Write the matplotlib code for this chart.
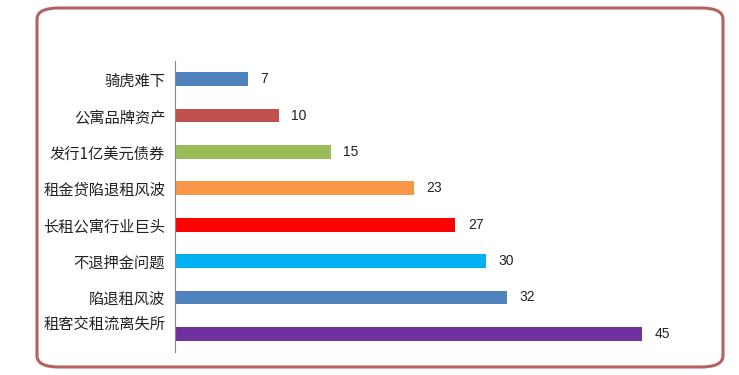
import matplotlib.pyplot as plt
import matplotlib.transforms as mtransforms
from matplotlib.patches import FancyBboxPatch

plt.rcParams['font.family'] = ['Noto Sans CJK SC', 'DejaVu Sans']

# 数据（从上到下）
categorias = ['骑虎难下', '公寓品牌资产', '发行1亿美元债券', '租金贷陷退租风波',
              '长租公寓行业巨头', '不退押金问题', '陷退租风波', '租客交租流离失所']
valores = [7, 10, 15, 23, 27, 30, 32, 45]
cores = ['#4F81BD', '#C0504D', '#9BBB59', '#F79646',
         '#FF0000', '#00B0F0', '#4F81BD', '#7030A0']

fig = plt.figure(figsize=(7.39, 3.75), dpi=100)
ax = fig.add_axes([0.2368, 0.0613, 0.6996, 0.776])

pos = list(range(len(categorias)))
ax.barh(pos, valores, height=0.38, color=cores)
ax.set_ylim(len(categorias) - 0.5, -0.5)
ax.set_xlim(0, 49.8)

for p, v in zip(pos, valores):
    ax.text(v + 1.2, p, str(v), va='center', ha='left', fontsize=10,
            color='#222222', family='Liberation Sans')

ax.set_yticks(pos)
ax.set_yticklabels(categorias, fontsize=11, color='#222222')
ax.tick_params(axis='y', length=0, pad=7)
ax.set_xticks([])
for lado in ['top', 'right', 'bottom']:
    ax.spines[lado].set_visible(False)
ax.spines['left'].set_color('#888888')
ax.spines['left'].set_linewidth(0.8)

# o último rótulo fica um pouco acima da barra, como no original
ultimo = ax.get_yticklabels()[-1]
ultimo.set_transform(ultimo.get_transform() +
                     mtransforms.ScaledTranslation(0, 12 / 100, fig.dpi_scale_trans))

# moldura arredondada
moldura = FancyBboxPatch((37 / 739, 8 / 375), (723 - 37) / 739, (367 - 8) / 375,
                         boxstyle='round,pad=0,rounding_size=0.03',
                         transform=fig.transFigure, fill=False,
                         edgecolor='#B5615F', linewidth=2.2)
fig.patches.append(moldura)

fig.savefig('out.png', dpi=100)
